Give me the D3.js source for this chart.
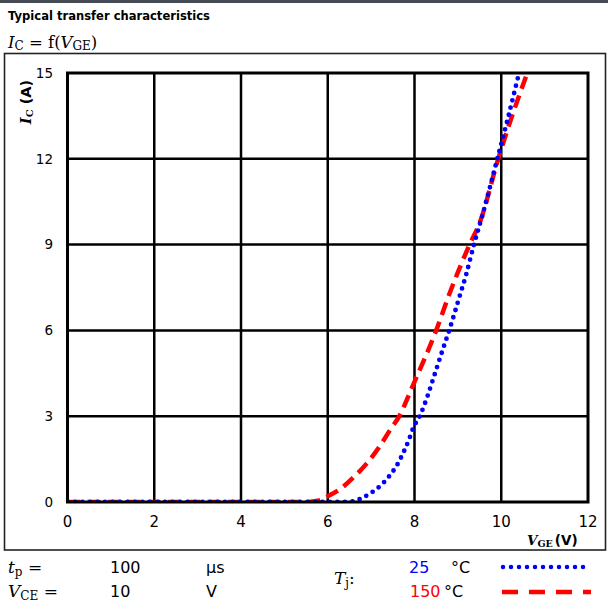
<!DOCTYPE html>
<html>
<head>
<meta charset="utf-8">
<script src="https://cdn.jsdelivr.net/npm/d3@7"></script>
<style>
  html, body { margin: 0; padding: 0; background: #fff; }
  svg { display: block; }
  text { font-family: "DejaVu Sans", Verdana, sans-serif; fill: #000; }
  .serif { font-family: "DejaVu Serif", "Liberation Serif", serif; }
</style>
</head>
<body>
<script>
// Collector current I_C (A) versus gate-emitter voltage V_GE (V)
const xTicks = [0, 2, 4, 6, 8, 10, 12];
const yTicks = [0, 3, 6, 9, 12, 15];

// Tj = 25 °C
const vge25 = [0, 6.3, 6.6, 6.8, 7.0, 7.2, 7.4, 7.6, 7.75, 7.87, 7.97, 8.12, 8.3, 8.43, 8.66, 8.8, 9.04, 9.2, 9.37, 9.58, 9.91, 10.15, 10.41];
const ic25  = [0, 0,   0.03, 0.15, 0.32, 0.55, 0.87, 1.3, 1.75, 2.17, 2.59, 3.0, 3.7, 4.3, 5.37, 6.0, 7.19, 8.0, 9.0, 10.1, 12.0, 13.4, 15.0];

// Tj = 150 °C
const vge150 = [0, 5.5, 5.8, 6.0, 6.3, 6.6, 6.9, 7.2, 7.45, 7.65, 7.9, 8.0, 8.5, 8.81, 9.27, 9.5, 9.93, 10.25, 10.6];
const ic150  = [0, 0,   0.05, 0.2, 0.47, 0.87, 1.35, 1.95, 2.55, 3.0, 3.85, 4.2, 6.0, 7.3, 9.0, 9.75, 12.0, 13.5, 15.0];

const W = 608, H = 602;
const plot = { left: 67.5, right: 588, top: 73, bottom: 502 };

const svg = d3.select("body").append("svg").attr("width", W).attr("height", H);

// header bar
svg.append("rect").attr("x", 0).attr("y", 0).attr("width", W).attr("height", 3).attr("fill", "#454a55");

// title
svg.append("text").attr("x", 8).attr("y", 20)
  .attr("font-size", 11.5).attr("font-weight", "bold")
  .attr("textLength", 202).attr("lengthAdjust", "spacingAndGlyphs")
  .text("Typical transfer characteristics");

// function line
const fn = svg.append("text").attr("class", "serif").attr("x", 8).attr("y", 48).attr("font-size", 16.5);
fn.append("tspan").attr("font-style", "italic").text("I");
fn.append("tspan").attr("font-size", 12).attr("dy", 2).text("C");
fn.append("tspan").attr("dy", -2).text(" = f(");
fn.append("tspan").attr("font-style", "italic").text("V");
fn.append("tspan").attr("font-size", 12).attr("dy", 2).text("GE");
fn.append("tspan").attr("dy", -2).text(")");

// outer frame
svg.append("rect").attr("x", 4.5).attr("y", 53.5).attr("width", 601).attr("height", 496.5)
  .attr("fill", "none").attr("stroke", "#222").attr("stroke-width", 1.6);

const x = d3.scaleLinear().domain([0, 12]).range([plot.left, plot.right]);
const y = d3.scaleLinear().domain([0, 15]).range([plot.bottom, plot.top]);

// grid
const grid = svg.append("g").attr("stroke", "#000").attr("stroke-width", 2.5);
grid.selectAll(".gx").data(xTicks.slice(1, -1)).join("line")
  .attr("x1", d => x(d)).attr("x2", d => x(d)).attr("y1", plot.top).attr("y2", plot.bottom);
grid.selectAll(".gy").data(yTicks.slice(1, -1)).join("line")
  .attr("y1", d => y(d)).attr("y2", d => y(d)).attr("x1", plot.left).attr("x2", plot.right);

// tick labels
svg.append("g").selectAll("text").data(xTicks).join("text")
  .attr("x", d => x(d)).attr("y", 527).attr("text-anchor", "middle").attr("font-size", 15)
  .text(d => d);
svg.append("g").selectAll("text").data(yTicks).join("text")
  .attr("x", 53).attr("y", d => y(d)).attr("dy", "0.36em").attr("text-anchor", "end").attr("font-size", 13.5)
  .text(d => d);

// axis titles
const xl = svg.append("text").attr("x", 527).attr("y", 545).attr("font-size", 13.5).attr("font-weight", "bold");
xl.append("tspan").attr("class", "serif").attr("font-style", "italic").text("V");
xl.append("tspan").attr("class", "serif").attr("font-size", 9.5).attr("dy", 2).text("GE");
xl.append("tspan").attr("dy", -2).attr("dx", 2).text("(V)");

const yl = svg.append("text").attr("transform", "translate(31,102) rotate(-90)")
  .attr("text-anchor", "middle").attr("font-size", 14.5).attr("font-weight", "bold");
yl.append("tspan").attr("class", "serif").attr("font-style", "italic").text("I");
yl.append("tspan").attr("class", "serif").attr("font-size", 10).attr("dy", 2).text("C");
yl.append("tspan").attr("dy", -2).text(" (A)");

// curves
svg.append("clipPath").attr("id", "clip").append("rect")
  .attr("x", plot.left).attr("y", plot.top - 1).attr("width", plot.right - plot.left).attr("height", plot.bottom - plot.top + 2);

const line = d3.line().x(d => x(d[0])).y(d => y(d[1])).curve(d3.curveMonotoneX);
const s150 = vge150.map((v, i) => [v, ic150[i]]);
const s25 = vge25.map((v, i) => [v, ic25[i]]);

const curves = svg.append("g").attr("clip-path", "url(#clip)");
curves.append("path").attr("d", line(s150)).attr("fill", "none")
  .attr("stroke", "#ff0000").attr("stroke-width", 4.5).attr("stroke-dasharray", "13 7");
curves.append("path").attr("d", line(s25)).attr("fill", "none")
  .attr("stroke", "#0000ff").attr("stroke-width", 4.8).attr("stroke-linecap", "round").attr("stroke-dasharray", "0 7.5");

// plot frame
svg.append("rect").attr("x", plot.left).attr("y", plot.top)
  .attr("width", plot.right - plot.left).attr("height", plot.bottom - plot.top)
  .attr("fill", "none").attr("stroke", "#000").attr("stroke-width", 3);

// conditions block
const cond = svg.append("g").attr("font-size", 16);
const tp = cond.append("text").attr("class", "serif").attr("x", 8).attr("y", 573).attr("font-size", 17);
tp.append("tspan").attr("font-style", "italic").text("t");
tp.append("tspan").attr("font-size", 12).attr("dy", 3).text("p");
tp.append("tspan").attr("dy", -3).text(" =");
cond.append("text").attr("x", 110).attr("y", 573).text("100");
cond.append("text").attr("x", 206).attr("y", 573).text("μs");

const vce = cond.append("text").attr("class", "serif").attr("x", 8).attr("y", 597).attr("font-size", 17);
vce.append("tspan").attr("font-style", "italic").text("V");
vce.append("tspan").attr("font-size", 12).attr("dy", 3).text("CE");
vce.append("tspan").attr("dy", -3).text(" =");
cond.append("text").attr("x", 110).attr("y", 597).text("10");
cond.append("text").attr("x", 206).attr("y", 597).text("V");

const tj = cond.append("text").attr("class", "serif").attr("x", 334).attr("y", 584).attr("font-size", 17);
tj.append("tspan").attr("font-style", "italic").text("T");
tj.append("tspan").attr("font-size", 12).attr("dy", 3).text("j");
tj.append("tspan").attr("dy", -3).text(":");

cond.append("text").attr("x", 409).attr("y", 573).style("fill", "#0000ff").text("25");
cond.append("text").attr("x", 451).attr("y", 573).text("°C");
cond.append("text").attr("x", 410).attr("y", 597).style("fill", "#ff0000").text("150");
cond.append("text").attr("x", 444).attr("y", 597).text("°C");

const leg = d3.line();
svg.append("path").attr("d", leg([[503, 567], [591, 567]])).attr("fill", "none")
  .attr("stroke", "#0000ff").attr("stroke-width", 4.5).attr("stroke-linecap", "round").attr("stroke-dasharray", "0 8");
svg.append("path").attr("d", leg([[502, 592], [591, 592]])).attr("fill", "none")
  .attr("stroke", "#ff0000").attr("stroke-width", 4.5).attr("stroke-dasharray", "16 11");
</script>
</body>
</html>
